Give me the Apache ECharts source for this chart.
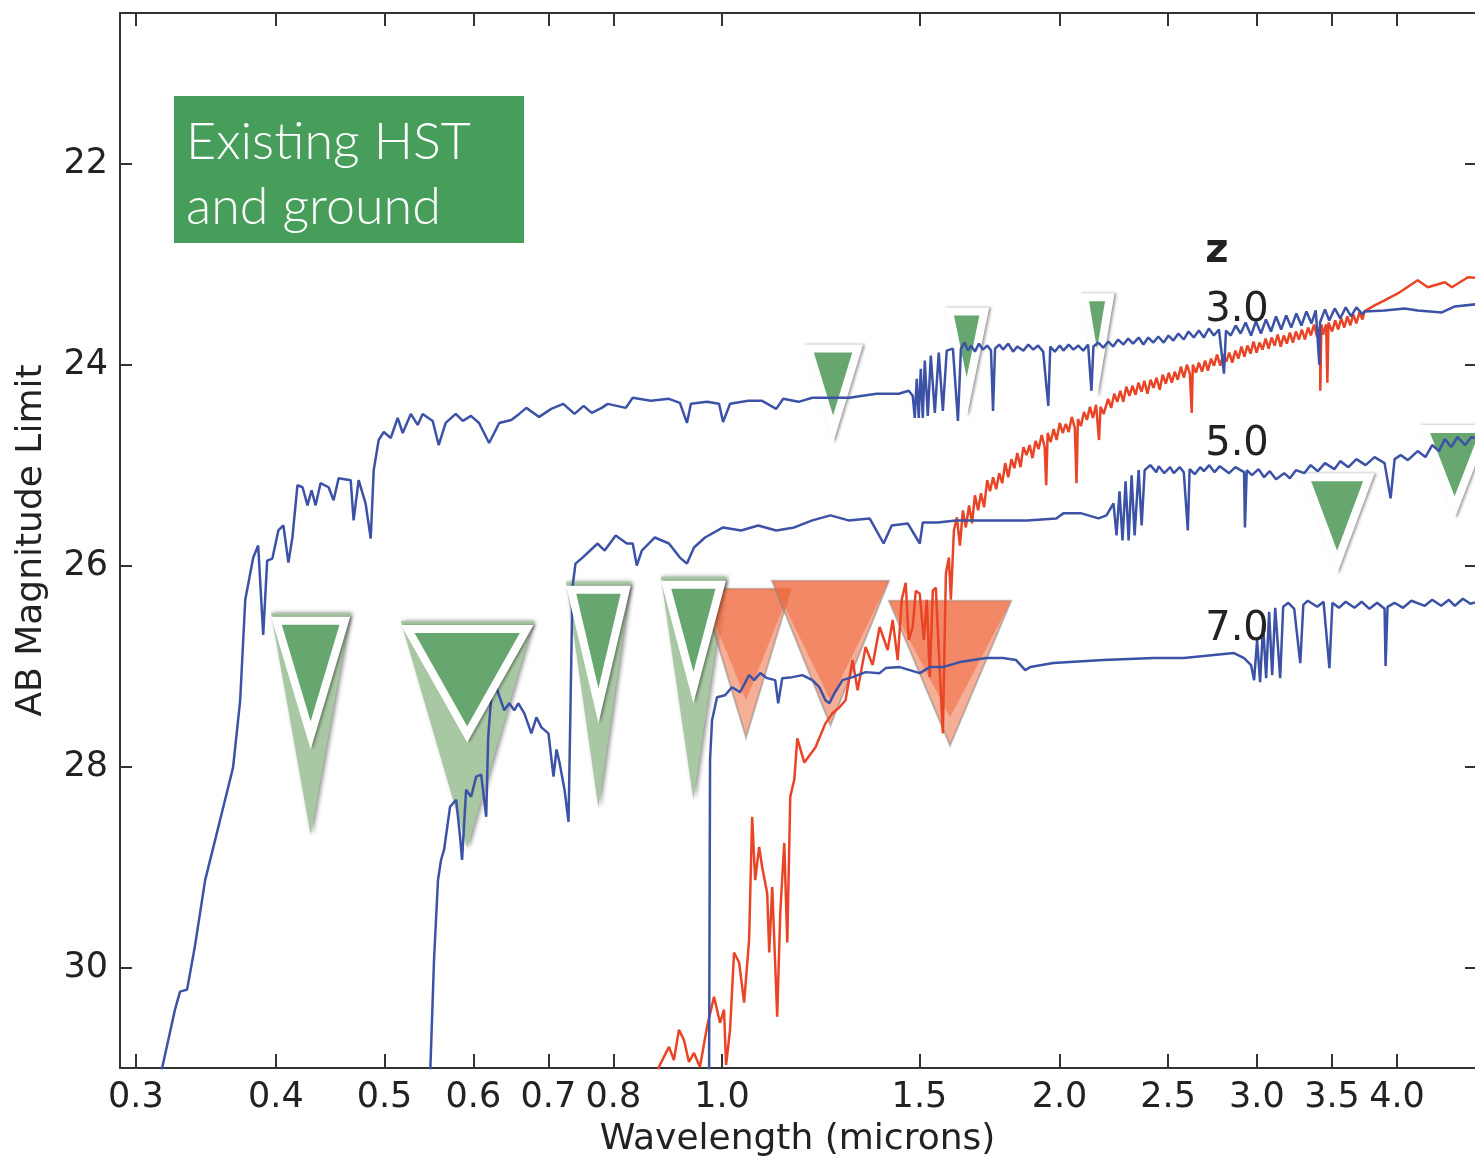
<!DOCTYPE html>
<html>
<head>
<meta charset="utf-8">
<script src="https://cdn.jsdelivr.net/npm/echarts@6.0.0/dist/echarts.min.js"></script>
</head>
<body style="margin:0;background:#fff">
<div id="main" style="width:1475px;height:1158px"></div>
<script>
// wavelength (microns) vs AB magnitude
var z3Spec = [
  [0.3152,31.1],[0.3251,30.42],[0.3285,30.24],[0.3333,30.22],[0.3388,29.78],[0.3459,29.13],[0.3567,28.53],
  [0.3663,28.01],[0.3717,27.34],[0.3756,26.34],[0.3818,25.92],[0.3857,25.80],[0.3897,26.69],[0.3929,25.95],
  [0.3971,25.93],[0.4020,25.65],[0.4062,25.60],[0.4104,25.97],[0.4138,25.72],[0.4181,25.20],[0.4225,25.22],
  [0.4268,25.40],[0.4304,25.25],[0.4340,25.40],[0.4384,25.18],[0.4457,25.22],[0.4503,25.35],[0.4550,25.13],
  [0.4664,25.15],[0.4692,25.55],[0.4741,25.15],[0.4809,25.38],[0.4860,25.73],[0.4890,25.05],[0.4940,24.75],
  [0.4992,24.67],[0.5064,24.73],[0.5137,24.53],[0.5190,24.68],[0.5277,24.49],[0.5352,24.60],[0.5407,24.49],
  [0.5520,24.56],[0.5588,24.80],[0.5669,24.58],[0.5787,24.49],[0.5872,24.56],[0.5971,24.51],[0.6071,24.58],
  [0.6198,24.78],[0.6328,24.58],[0.6487,24.55],[0.6593,24.49],[0.6690,24.43],[0.6869,24.52],[0.7041,24.44],
  [0.7218,24.39],[0.7386,24.49],[0.7526,24.41],[0.7652,24.48],[0.7810,24.43],[0.7907,24.39],[0.8206,24.43],
  [0.8324,24.33],[0.8639,24.36],[0.8967,24.34],[0.9171,24.38],[0.9305,24.58],[0.9381,24.39],[0.9697,24.37],
  [0.9939,24.39],[1.0021,24.57],[1.0166,24.39],[1.0551,24.36],[1.0859,24.36],[1.1177,24.44],[1.1339,24.34],
  [1.1700,24.37],[1.2038,24.33],[1.2571,24.33],[1.2993,24.33],[1.3346,24.31],[1.3737,24.29],[1.4374,24.29],
  [1.4674,24.26],[1.4795,24.31],[1.4856,24.53],[1.4917,24.14],[1.4978,24.53],[1.5041,24.04],[1.5103,24.53],
  [1.5165,23.96],[1.5260,24.51],[1.5354,23.91],[1.5481,24.48],[1.5607,23.88],[1.5739,24.46],[1.5865,23.86],
  [1.6067,23.84],[1.6234,24.56],[1.6334,23.84],[1.645,23.78],[1.657,23.86],[1.668,23.81],[1.681,23.87],
  [1.695,23.79],[1.709,23.85],[1.724,23.81],[1.7375,23.86],[1.7447,24.46],[1.7520,23.84],[1.767,23.80],
  [1.781,23.85],[1.800,23.79],[1.818,23.87],[1.834,23.82],[1.857,23.86],[1.876,23.80],[1.895,23.85],
  [1.914,23.81],[1.934,23.87],[1.9544,24.41],[1.9624,23.82],[1.981,23.87],[2.001,23.81],[2.016,23.86],
  [2.038,23.80],[2.058,23.85],[2.079,23.81],[2.100,23.86],[2.121,23.80],[2.1354,24.26],[2.1443,23.82],
  [2.166,23.78],[2.188,23.83],[2.211,23.77],[2.233,23.82],[2.256,23.75],[2.281,23.80],[2.303,23.74],
  [2.326,23.79],[2.353,23.73],[2.376,23.80],[2.400,23.73],[2.425,23.78],[2.450,23.72],[2.477,23.78],
  [2.502,23.71],[2.527,23.76],[2.553,23.69],[2.581,23.75],[2.607,23.67],[2.635,23.73],[2.663,23.66],
  [2.690,23.73],[2.718,23.64],[2.746,23.71],[2.775,23.65],[2.8037,24.09],[2.8152,23.66],[2.843,23.71],
  [2.872,23.61],[2.901,23.69],[2.931,23.58],[2.964,23.71],[2.994,23.57],[3.025,23.69],[3.056,23.55],
  [3.088,23.67],[3.120,23.52],[3.153,23.65],[3.186,23.51],[3.219,23.63],[3.253,23.49],[3.287,23.61],
  [3.321,23.47],[3.356,23.59],[3.385,23.46],[3.4101,24.00],[3.415,23.58],[3.450,23.45],[3.480,23.56],
  [3.520,23.44],[3.560,23.54],[3.600,23.43],[3.640,23.52],[3.680,23.43],[3.7265,23.50],[3.7417,23.47],
  [3.8992,23.46],[4.0635,23.44],[4.1738,23.46],[4.3860,23.48],[4.5050,23.42],[4.7920,23.39]
];
var z5Spec = [
  [0.5489,31.12],[0.5535,29.92],[0.5580,29.13],[0.5615,28.93],[0.5650,28.83],[0.5720,28.40],[0.5792,28.33],
  [0.5839,28.70],[0.5863,28.93],[0.5912,28.23],[0.5973,28.30],[0.6035,28.10],[0.6097,28.08],[0.6161,28.50],
  [0.6186,27.71],[0.6224,27.31],[0.6289,27.21],[0.6393,27.44],[0.6460,27.37],[0.6527,27.44],[0.6580,27.37],
  [0.6663,27.47],[0.6760,27.67],[0.6830,27.51],[0.6901,27.61],[0.7001,27.67],[0.7074,28.10],[0.7118,27.83],
  [0.7162,27.96],[0.7236,28.23],[0.7296,28.55],[0.7356,26.21],[0.7401,25.98],[0.7509,25.92],[0.7745,25.78],
  [0.7858,25.85],[0.8038,25.70],[0.8223,25.78],[0.8324,25.78],[0.8394,26.00],[0.8481,25.85],[0.8711,25.72],
  [0.8967,25.78],[0.9171,25.92],[0.9305,25.98],[0.9440,25.82],[0.9657,25.72],[1.0021,25.62],[1.0400,25.65],
  [1.0770,25.60],[1.1177,25.65],[1.1600,25.62],[1.2038,25.55],[1.2494,25.50],[1.2967,25.55],[1.3541,25.53],
  [1.3936,25.78],[1.4168,25.60],[1.4643,25.58],[1.5010,25.78],[1.5103,25.57],[1.5577,25.57],[1.6166,25.55],
  [1.7411,25.55],[1.8716,25.55],[1.9869,25.53],[2.0157,25.48],[2.0919,25.48],[2.1666,25.53],[2.2026,25.50],
  [2.2345,25.38],[2.2484,25.70],[2.2624,25.26],[2.2763,25.75],[2.2907,25.16],[2.3050,25.75],[2.3192,25.10],
  [2.3335,25.70],[2.3529,25.05],[2.3675,25.60],[2.3823,25.05],[2.41,25.00],[2.44,25.07],[2.4522,25.01],
  [2.48,25.08],[2.51,25.02],[2.5290,25.08],[2.56,25.02],[2.5815,25.07],[2.6030,25.65],[2.6127,25.04],
  [2.64,25.09],[2.67,25.02],[2.6903,25.06],[2.72,25.00],[2.75,25.07],[2.78,25.01],[2.8329,25.08],
  [2.87,25.02],[2.9218,25.07],[2.9270,25.62],[2.9380,25.05],[2.97,25.10],[3.01,25.04],[3.0445,25.12],
  [3.08,25.06],[3.12,25.14],[3.1727,25.08],[3.21,25.13],[3.25,25.05],[3.3064,25.08],[3.35,25.00],
  [3.40,25.06],[3.45,24.98],[3.5174,25.04],[3.56,24.96],[3.62,25.02],[3.68,24.94],[3.75,25.00],
  [3.82,24.92],[3.8992,24.98],[3.9478,25.33],[3.9805,24.94],[4.03,24.90],[4.09,24.95],[4.1738,24.86],
  [4.24,24.92],[4.30,24.80],[4.36,24.86],[4.4131,24.74],[4.47,24.82],[4.53,24.72],[4.60,24.80],
  [4.66,24.72],[4.7920,24.76]
];
var z7Spec = [
  [0.9737,31.12],[0.9757,27.93],[0.9797,27.54],[0.9898,27.31],[1.0062,27.29],[1.0208,27.21],[1.0378,27.26],
  [1.0572,27.09],[1.0682,27.14],[1.0815,27.07],[1.0972,27.12],[1.1154,27.14],[1.1223,27.37],[1.1316,27.12],
  [1.1552,27.11],[1.1793,27.09],[1.2038,27.14],[1.2213,27.21],[1.2366,27.34],[1.2468,27.37],[1.2597,27.27],
  [1.2807,27.14],[1.3074,27.11],[1.3429,27.06],[1.3823,27.07],[1.3995,27.02],[1.4404,27.01],[1.4704,27.04],
  [1.5010,27.07],[1.5322,27.01],[1.5739,27.01],[1.6299,26.96],[1.6743,26.94],[1.7198,26.92],[1.7811,26.92],
  [1.8294,26.94],[1.8638,27.04],[1.8831,27.01],[1.9746,26.97],[2.1890,26.94],[2.4268,26.92],[2.5815,26.92],
  [2.7462,26.89],[2.8620,26.87],[2.9218,26.92],[2.9641,26.99],[2.9826,27.14],[3.0011,26.74],[3.0196,27.16],
  [3.0384,26.59],[3.0572,27.12],[3.0762,26.46],[3.0956,27.09],[3.1147,26.42],[3.1467,27.12],[3.1662,26.41],
  [3.20,26.37],[3.2388,26.43],[3.2792,26.97],[3.3000,26.39],[3.33,26.35],[3.3961,26.41],[3.44,26.36],
  [3.4815,27.02],[3.5029,26.37],[3.55,26.42],[3.60,26.36],[3.6655,26.42],[3.72,26.36],[3.78,26.43],
  [3.84,26.37],[3.8992,26.43],[3.9072,27.00],[3.9230,26.41],[3.98,26.37],[4.05,26.42],[4.12,26.35],
  [4.2348,26.40],[4.30,26.34],[4.38,26.40],[4.45,26.34],[4.5050,26.40],[4.58,26.33],[4.65,26.38],
  [4.7920,26.34]
];
var redSpec = [
  [0.8748,31.07],[0.8783,30.99],[0.8967,30.79],[0.9059,30.92],[0.9153,30.62],[0.9247,30.72],[0.9343,30.94],
  [0.9440,30.85],[0.9557,30.99],[0.9697,30.59],[0.9837,30.29],[0.9959,30.55],[1.0041,30.42],[1.0083,30.97],
  [1.0166,30.62],[1.0250,29.85],[1.0357,29.95],[1.0464,30.35],[1.0572,29.72],[1.0638,28.50],[1.0704,29.13],
  [1.0792,28.80],[1.0859,29.00],[1.0972,29.26],[1.1018,29.85],[1.1086,29.20],[1.1200,30.49],[1.1270,29.46],
  [1.1363,28.76],[1.1434,29.75],[1.1504,28.30],[1.1600,28.13],[1.1672,27.72],[1.1841,27.96],[1.2113,27.81],
  [1.2366,27.57],[1.2546,27.47],[1.2729,27.41],[1.2887,27.34],[1.3074,26.94],[1.3211,27.24],[1.3429,26.81],
  [1.3625,26.99],[1.3823,26.61],[1.4052,26.84],[1.4197,26.54],[1.4345,26.94],[1.4463,26.34],[1.4583,26.17],
  [1.4674,26.74],[1.4795,26.61],[1.4887,26.25],[1.5010,26.28],[1.5134,26.74],[1.5228,26.34],[1.5322,27.11],
  [1.5417,26.25],[1.5514,26.22],[1.5607,26.84],[1.5739,27.67],[1.5837,26.08],[1.5935,25.92],[1.6000,26.34],
  [1.610,25.65],[1.620,25.52],[1.630,25.80],[1.640,25.45],[1.650,25.62],[1.661,25.40],[1.671,25.58],
  [1.681,25.30],[1.692,25.45],[1.702,25.28],[1.713,25.42],[1.724,25.15],[1.734,25.26],[1.745,25.12],
  [1.756,25.24],[1.767,25.08],[1.778,25.18],[1.789,24.98],[1.800,25.12],[1.812,24.94],[1.823,25.03],
  [1.834,24.88],[1.846,25.02],[1.857,24.82],[1.869,24.90],[1.881,24.80],[1.892,24.93],[1.904,24.76],
  [1.916,24.84],[1.928,24.70],[1.940,24.82],[1.946,25.20],[1.952,24.68],[1.964,24.77],[1.976,24.64],
  [1.988,24.75],[2.001,24.58],[2.013,24.68],[2.026,24.59],[2.038,24.67],[2.051,24.52],[2.064,24.63],
  [2.071,25.18],[2.077,24.54],[2.090,24.61],[2.103,24.47],[2.116,24.55],[2.129,24.42],[2.142,24.53],
  [2.156,24.40],[2.169,24.75],[2.176,24.42],[2.190,24.49],[2.210,24.34],[2.224,24.43],[2.238,24.29],
  [2.252,24.37],[2.266,24.26],[2.280,24.37],[2.294,24.22],[2.309,24.31],[2.323,24.21],[2.338,24.30],
  [2.352,24.18],[2.367,24.27],[2.381,24.16],[2.396,24.29],[2.411,24.15],[2.426,24.23],[2.441,24.13],
  [2.457,24.25],[2.472,24.10],[2.488,24.19],[2.503,24.08],[2.519,24.18],[2.534,24.07],[2.550,24.15],
  [2.566,24.02],[2.582,24.13],[2.598,24.00],[2.614,24.09],[2.624,24.48],[2.630,24.00],[2.647,24.08],
  [2.663,23.98],[2.680,24.07],[2.697,23.96],[2.713,24.06],[2.730,23.94],[2.747,24.01],[2.764,23.90],
  [2.782,24.01],[2.799,23.90],[2.817,23.97],[2.834,23.88],[2.852,23.98],[2.870,23.86],[2.888,23.94],
  [2.906,23.82],[2.924,23.92],[2.942,23.81],[2.961,23.89],[2.979,23.77],[2.998,23.88],[3.016,23.78],
  [3.035,23.85],[3.054,23.74],[3.073,23.84],[3.092,23.73],[3.111,23.81],[3.131,23.70],[3.150,23.82],
  [3.170,23.71],[3.190,23.79],[3.210,23.68],[3.230,23.78],[3.250,23.67],[3.270,23.75],[3.290,23.65],
  [3.311,23.75],[3.332,23.63],[3.352,23.71],[3.373,23.60],[3.394,23.72],[3.415,23.62],[3.417,24.26],
  [3.425,23.60],[3.436,23.70],[3.458,23.60],[3.467,24.18],[3.475,23.58],[3.501,23.67],[3.523,23.56],
  [3.545,23.65],[3.567,23.54],[3.590,23.63],[3.612,23.52],[3.634,23.61],[3.657,23.50],[3.680,23.59],
  [3.703,23.48],[3.726,23.55],[3.7417,23.47],[3.8199,23.41],[3.8992,23.36],[4.0218,23.28],[4.1738,23.16],
  [4.2611,23.23],[4.4131,23.18],[4.4771,23.23],[4.6274,23.13],[4.7920,23.14]
];

// filter limits: [lambda left, lambda right, mag top, mag tip, mag faded tip]
var greenLow = [
  [0.396, 0.466, 26.51, 27.83, 28.68],
  [0.517, 0.679, 26.59, 27.76, 28.81],
  [0.726, 0.829, 26.20, 27.57, 28.41],
  [0.882, 1.008, 26.15, 27.37, 28.33]
];
var greenHigh = [
  [1.181, 1.336, 23.80, 24.78],
  [1.578, 1.731, 23.43, 24.52],
  [2.084, 2.239, 23.29, 24.33],
  [3.275, 3.820, 25.08, 26.08],
  [4.180, 4.850, 24.60, 25.53]
];
// [lambda left, lambda right, mag top, mag tip (light), mag tip (dark)]
var orangeLimits = [
  [0.958, 1.152, 26.23, 27.71, 27.34],
  [1.108, 1.409, 26.15, 27.59, 27.34],
  [1.409, 1.811, 26.35, 27.79, 27.51]
];

var xTicks = [0.3, 0.4, 0.5, 0.6, 0.7, 0.8, 1.0, 1.5, 2.0, 2.5, 3.0, 3.5, 4.0];
var yTicks = [22, 24, 26, 28, 30];
var redshifts = ['3.0', '5.0', '7.0'];

var chart = echarts.init(document.getElementById('main'), null, {renderer: 'canvas'});

var BLUE = '#3c52a6', RED = '#ea4426';
var FONT = 'DejaVu Sans';

function triangle(api, x0, x1, top, tip) {
  var a = api.coord([x0, top]);
  var b = api.coord([x1, top]);
  var c = [(a[0] + b[0]) / 2, api.coord([x0, tip])[1]];
  return [a, b, c];
}

// shrink a triangle towards its incentre by d pixels
function inset(p, d) {
  var la = Math.hypot(p[1][0] - p[2][0], p[1][1] - p[2][1]);
  var lb = Math.hypot(p[0][0] - p[2][0], p[0][1] - p[2][1]);
  var lc = Math.hypot(p[0][0] - p[1][0], p[0][1] - p[1][1]);
  var s = la + lb + lc;
  var ix = (la * p[0][0] + lb * p[1][0] + lc * p[2][0]) / s;
  var iy = (la * p[0][1] + lb * p[1][1] + lc * p[2][1]) / s;
  var area = Math.abs((p[1][0] - p[0][0]) * (p[2][1] - p[0][1]) - (p[2][0] - p[0][0]) * (p[1][1] - p[0][1])) / 2;
  var r = 2 * area / s;
  var k = Math.max(0, (r - d) / r);
  return p.map(function (q) { return [ix + (q[0] - ix) * k, iy + (q[1] - iy) * k]; });
}

function renderFade(params, api) {
  var pts = triangle(api, api.value(0), api.value(1), api.value(2) - 0.04, api.value(4));
  return {
    type: 'polygon', shape: {points: pts},
    style: {fill: '#a8c8a3', shadowBlur: 4, shadowColor: 'rgba(0,0,0,0.45)', shadowOffsetX: 2}
  };
}

function renderGreen(params, api) {
  var pts = triangle(api, api.value(0), api.value(1), api.value(2), api.value(3));
  return {
    type: 'group',
    children: [
      {type: 'polygon', shape: {points: pts},
       style: {fill: '#ffffff', shadowBlur: 3, shadowColor: 'rgba(0,0,0,0.4)', shadowOffsetX: 2}},
      {type: 'polygon', shape: {points: inset(pts, 8)}, style: {fill: '#67a76f'}}
    ]
  };
}

function renderOrange(params, api) {
  var light = triangle(api, api.value(0), api.value(1), api.value(2), api.value(3));
  var dark = triangle(api, api.value(0), api.value(1), api.value(2), api.value(4));
  return {
    type: 'group',
    children: [
      {type: 'polygon', shape: {points: light},
       style: {fill: 'rgba(238,110,66,0.55)', stroke: 'rgba(120,120,120,0.45)', lineWidth: 2}},
      {type: 'polygon', shape: {points: dark}, style: {fill: 'rgba(238,104,60,0.55)'}}
    ]
  };
}

function spectrum(data, color) {
  return {
    type: 'line', data: data, showSymbol: false, symbol: 'none', z: 3,
    lineStyle: {color: color, width: 2.5}, clip: true, animation: false
  };
}

var xBase = {
  type: 'log', logBase: 10, min: 0.2904, max: 4.695,
  splitLine: {show: false}, minorTick: {show: false},
  axisLine: {lineStyle: {color: '#333', width: 2}}
};

var option = {
  animation: false,
  grid: {left: 120, right: 0, top: 13, bottom: 90, containLabel: false, outerBoundsMode: 'none'},
  xAxis: [
    Object.assign({}, xBase, {
      position: 'bottom',
      name: 'Wavelength (microns)', nameLocation: 'middle', nameGap: 54,
      nameTextStyle: {fontFamily: FONT, fontSize: 36, color: '#222'},
      axisTick: {inside: true, length: 14, customValues: xTicks, lineStyle: {color: '#333', width: 2}},
      axisLabel: {customValues: xTicks, fontFamily: FONT, fontSize: 35, color: '#222', margin: 12,
        formatter: function (v) { return Number(v).toFixed(1); }}
    }),
    Object.assign({}, xBase, {
      position: 'top',
      axisTick: {inside: true, length: 13, customValues: xTicks, lineStyle: {color: '#333', width: 2}},
      axisLabel: {show: false}
    })
  ],
  yAxis: [
    {
      type: 'value', inverse: true, min: 20.5, max: 31, position: 'left',
      name: 'AB Magnitude Limit', nameLocation: 'middle', nameGap: 70, nameRotate: 90,
      nameTextStyle: {fontFamily: FONT, fontSize: 36, color: '#222'},
      splitLine: {show: false},
      axisLine: {show: true, lineStyle: {color: '#333', width: 2}},
      axisTick: {show: true, inside: true, length: 12, customValues: yTicks, lineStyle: {color: '#333', width: 2}},
      axisLabel: {customValues: yTicks, fontFamily: FONT, fontSize: 35, color: '#222', margin: 12}
    },
    {
      type: 'value', inverse: true, min: 20.5, max: 31, position: 'right',
      splitLine: {show: false},
      axisLine: {show: false},
      axisTick: {show: true, inside: true, length: 10, customValues: yTicks, lineStyle: {color: '#333', width: 2}},
      axisLabel: {show: false}
    }
  ],
  series: [
    {type: 'custom', name: 'faded', data: greenLow, renderItem: renderFade, z: 1, clip: true,
     encode: {x: [0, 1], y: [2, 4]}},
    {type: 'custom', name: 'upper limits', data: greenHigh, renderItem: renderGreen, z: 1, clip: true,
     encode: {x: [0, 1], y: [2, 3]}},
    {type: 'custom', name: 'orange', data: orangeLimits, renderItem: renderOrange, z: 2, clip: true,
     encode: {x: [0, 1], y: [2, 3]}},
    spectrum(redSpec, RED),
    spectrum(z7Spec, BLUE),
    spectrum(z5Spec, BLUE),
    spectrum(z3Spec, BLUE),
    {type: 'custom', name: 'lower limits', data: greenLow, renderItem: renderGreen, z: 4, clip: true,
     encode: {x: [0, 1], y: [2, 3]}}
  ],
  graphic: [
    {type: 'rect', left: 174, top: 96, shape: {width: 350, height: 147}, style: {fill: '#479e5b'}, z: 10},
    {type: 'text', x: 186, y: 142, z: 11,
     style: {text: 'Existing HST', font: '300 52px Lato', fill: '#fff', verticalAlign: 'middle'}},
    {type: 'text', x: 186, y: 207, z: 11,
     style: {text: 'and ground', font: '300 52px Lato', fill: '#fff', verticalAlign: 'middle'}},
    {type: 'text', x: 1217, y: 252, z: 11,
     style: {text: 'z', font: 'bold 40px "DejaVu Sans"', fill: '#222', align: 'center', verticalAlign: 'middle'}},
    {type: 'text', x: 1237, y: 311, z: 11,
     style: {text: redshifts[0], font: '40px "DejaVu Sans"', fill: '#222', align: 'center', verticalAlign: 'middle'}},
    {type: 'text', x: 1237, y: 445, z: 11,
     style: {text: redshifts[1], font: '40px "DejaVu Sans"', fill: '#222', align: 'center', verticalAlign: 'middle'}},
    {type: 'text', x: 1237, y: 630, z: 11,
     style: {text: redshifts[2], font: '40px "DejaVu Sans"', fill: '#222', align: 'center', verticalAlign: 'middle'}}
  ]
};

chart.setOption(option);
window.addEventListener('resize', chart.resize);
</script>
</body>
</html>
